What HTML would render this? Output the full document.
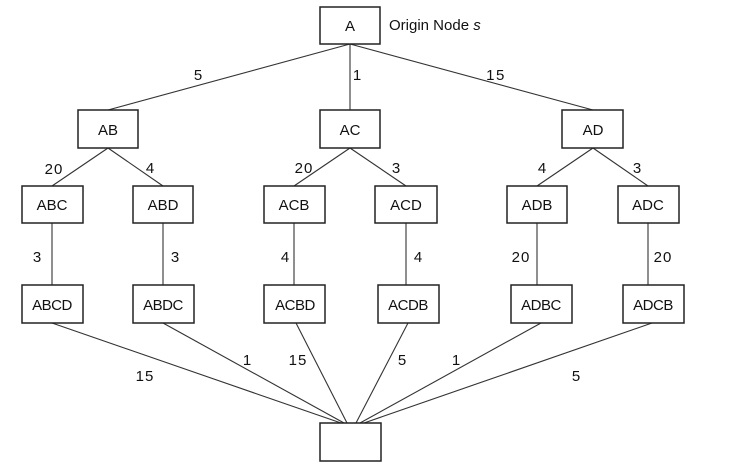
<!DOCTYPE html>
<html><head><meta charset="utf-8"><style>
body{margin:0;background:#fff}
svg{display:block}
text{font-family:"Liberation Sans",sans-serif;font-size:15px;fill:#111}
rect{fill:#fff;stroke:#222;stroke-width:1.5}
line{stroke:#333;stroke-width:1.1}
</style></head><body>
<svg width="741" height="476" viewBox="0 0 741 476">
<g>
<line x1="350" y1="44" x2="108" y2="110"/>
<line x1="350" y1="44" x2="350" y2="110"/>
<line x1="350" y1="44" x2="593" y2="110"/>
<line x1="108" y1="148" x2="52" y2="186"/>
<line x1="108" y1="148" x2="163" y2="186"/>
<line x1="350" y1="148" x2="294" y2="186"/>
<line x1="350" y1="148" x2="406" y2="186"/>
<line x1="593" y1="148" x2="537" y2="186"/>
<line x1="593" y1="148" x2="648" y2="186"/>
<line x1="52" y1="223" x2="52" y2="285"/>
<line x1="163" y1="223" x2="163" y2="285"/>
<line x1="294" y1="223" x2="294" y2="285"/>
<line x1="406" y1="223" x2="406" y2="285"/>
<line x1="537" y1="223" x2="537" y2="285"/>
<line x1="648" y1="223" x2="648" y2="285"/>
<line x1="52" y1="323" x2="341" y2="423"/>
<line x1="163" y1="323" x2="344" y2="423"/>
<line x1="296" y1="323" x2="347" y2="423"/>
<line x1="408" y1="323" x2="356" y2="423"/>
<line x1="541" y1="323" x2="360" y2="423"/>
<line x1="652" y1="323" x2="364" y2="423"/>
</g>
<rect x="320" y="7" width="60" height="37"/>
<rect x="78" y="110" width="60" height="38"/>
<rect x="320" y="110" width="60" height="38"/>
<rect x="562" y="110" width="61" height="38"/>
<rect x="22" y="186" width="61" height="37"/>
<rect x="133" y="186" width="60" height="37"/>
<rect x="264" y="186" width="61" height="37"/>
<rect x="375" y="186" width="62" height="37"/>
<rect x="507" y="186" width="60" height="37"/>
<rect x="618" y="186" width="61" height="37"/>
<rect x="22" y="285" width="61" height="38"/>
<rect x="133" y="285" width="61" height="38"/>
<rect x="264" y="285" width="61" height="38"/>
<rect x="378" y="285" width="61" height="38"/>
<rect x="511" y="285" width="61" height="38"/>
<rect x="623" y="285" width="61" height="38"/>
<rect x="320" y="423" width="61" height="38"/>
<g text-anchor="middle">
<text x="350" y="31">A</text>
<text x="108" y="135">AB</text>
<text x="350" y="135">AC</text>
<text x="593" y="135">AD</text>
<text x="52" y="210">ABC</text>
<text x="163" y="210">ABD</text>
<text x="294" y="210">ACB</text>
<text x="406" y="210">ACD</text>
<text x="537" y="210">ADB</text>
<text x="648" y="210">ADC</text>
<text x="52" y="310" letter-spacing="-0.5">ABCD</text>
<text x="163" y="310" letter-spacing="-0.5">ABDC</text>
<text x="295" y="310" letter-spacing="-0.5">ACBD</text>
<text x="408" y="310" letter-spacing="-0.5">ACDB</text>
<text x="541" y="310" letter-spacing="-0.5">ADBC</text>
<text x="653" y="310" letter-spacing="-0.5">ADCB</text>
<text x="198" y="80">5</text>
<text x="357" y="80">1</text>
<text x="496" y="80" letter-spacing="1.5">15</text>
<text x="54" y="174" letter-spacing="1">20</text>
<text x="150" y="173">4</text>
<text x="304" y="173" letter-spacing="1">20</text>
<text x="396" y="173">3</text>
<text x="542" y="173">4</text>
<text x="637" y="173">3</text>
<text x="37" y="262">3</text>
<text x="175" y="262">3</text>
<text x="285" y="262">4</text>
<text x="418" y="262">4</text>
<text x="521" y="262" letter-spacing="1">20</text>
<text x="663" y="262" letter-spacing="1">20</text>
<text x="145" y="381" letter-spacing="1">15</text>
<text x="247" y="365">1</text>
<text x="298" y="365" letter-spacing="1">15</text>
<text x="402" y="365">5</text>
<text x="456" y="365">1</text>
<text x="576" y="381">5</text>
</g>
<text x="389" y="30">Origin Node <tspan font-style="italic">s</tspan></text>
</svg>
</body></html>
